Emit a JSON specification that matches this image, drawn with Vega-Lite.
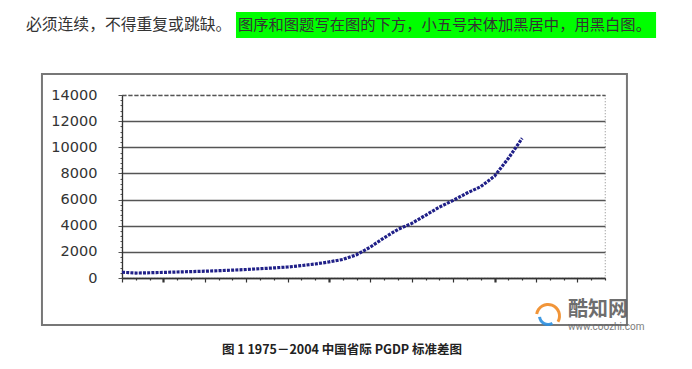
{
  "$schema": "https://vega.github.io/schema/vega-lite/v6.json",
  "width": 483,
  "height": 183,
  "autosize": "none",
  "padding": {"left": 122, "top": 95, "right": 87, "bottom": 91},
  "background": "white",
  "config": {"view": {"stroke": "#999", "strokeDash": [1, 2], "strokeWidth": 1.2}},
  "datasets": {
    "one": [{}],
    "pgdp": [
      {"year": 1975, "sd": 440}, {"year": 1976, "sd": 380}, {"year": 1977, "sd": 400},
      {"year": 1978, "sd": 430}, {"year": 1979, "sd": 460}, {"year": 1980, "sd": 490},
      {"year": 1981, "sd": 520}, {"year": 1982, "sd": 560}, {"year": 1983, "sd": 600},
      {"year": 1984, "sd": 650}, {"year": 1985, "sd": 710}, {"year": 1986, "sd": 770},
      {"year": 1987, "sd": 840}, {"year": 1988, "sd": 950}, {"year": 1989, "sd": 1070},
      {"year": 1990, "sd": 1230}, {"year": 1991, "sd": 1420}, {"year": 1992, "sd": 1780},
      {"year": 1993, "sd": 2370}, {"year": 1994, "sd": 3080}, {"year": 1995, "sd": 3720},
      {"year": 1996, "sd": 4180}, {"year": 1997, "sd": 4800}, {"year": 1998, "sd": 5420},
      {"year": 1999, "sd": 5940}, {"year": 2000, "sd": 6500}, {"year": 2001, "sd": 6990},
      {"year": 2002, "sd": 7800}, {"year": 2003, "sd": 9160}, {"year": 2004, "sd": 10690}
    ]
  },
  "layer": [
    {
      "data": {"name": "pgdp"},
      "mark": {"type": "line", "color": "#202088", "strokeWidth": 3.2, "strokeDash": [3, 1.2]},
      "encoding": {
        "x": {
          "field": "year", "type": "quantitative",
          "scale": {"domain": [1975, 2010], "nice": false, "zero": false},
          "axis": {
            "orient": "bottom",
            "title": null, "labels": false, "grid": false,
            "values": [1975,1976,1977,1978,1979,1980,1981,1982,1983,1984,1985,1986,1987,1988,1989,1990,1991,1992,1993,1994,1995,1996,1997,1998,1999,2000,2001,2002,2003,2004,2005,2006,2007,2008,2009,2010],
            "domainColor": "#333", "domainWidth": 1.3,
            "tickColor": "#333",
            "tickSize": {"condition": {"test": "(datum.value - 1975) % 3 == 0", "value": 4}, "value": 2},
            "tickWidth": {"condition": {"test": "(datum.value - 1978) % 12 == 0", "value": 2.2}, "value": 1.2}
          }
        },
        "y": {
          "field": "sd", "type": "quantitative",
          "scale": {"domain": [0, 14000], "nice": false},
          "axis": {
            "orient": "left",
            "title": null,
            "values": [0,400,800,1200,1600,2000,2400,2800,3200,3600,4000,4400,4800,5200,5600,6000,6400,6800,7200,7600,8000,8400,8800,9200,9600,10000,10400,10800,11200,11600,12000,12400,12800,13200,13600,14000],
            "labelExpr": "datum.value % 2000 == 0 ? datum.value : ''",
            "labelOverlap": false,
            "labelFont": "DejaVu Sans", "labelFontSize": 14.5, "labelColor": "#333",
            "labelPadding": 21,
            "domainColor": "#333", "domainWidth": 1.3,
            "tickColor": "#555",
            "tickSize": {"condition": {"test": "datum.value % 2000 == 0", "value": 4}, "value": 2},
            "grid": true,
            "gridColor": "#555",
            "gridWidth": 1.4,
            "gridOpacity": {"condition": {"test": "datum.value % 2000 == 0", "value": 1}, "value": 0},
            "gridDash": {"condition": {"test": "datum.value == 14000", "value": [4, 2]}, "value": []}
          }
        }
      }
    },
    {
      "data": {"name": "one"},
      "mark": {"type": "rect", "fill": null, "stroke": "#777", "strokeWidth": 2},
      "encoding": {
        "x": {"datum": 1969.2, "type": "quantitative", "axis": null},
        "x2": {"datum": 2011.59},
        "y": {"datum": 15607, "type": "quantitative", "axis": null},
        "y2": {"datum": -3596}
      }
    },
    {
      "data": {"name": "one"},
      "mark": {"type": "rect", "fill": "#00ff00"},
      "encoding": {
        "x": {"datum": 1983.26, "type": "quantitative", "axis": null},
        "x2": {"datum": 2013.7},
        "y": {"datum": 20350, "type": "quantitative", "axis": null},
        "y2": {"datum": 18361}
      }
    },
    {
      "data": {"name": "one"},
      "mark": {"type": "text", "align": "left", "baseline": "middle", "font": "Noto Sans CJK SC", "fontSize": 15.8, "color": "#333", "text": "必须连续，不得重复或跳缺。"},
      "encoding": {
        "x": {"datum": 1968.04, "type": "quantitative", "axis": null},
        "y": {"datum": 19356, "type": "quantitative", "axis": null}
      }
    },
    {
      "data": {"name": "one"},
      "mark": {"type": "text", "align": "left", "baseline": "middle", "font": "Noto Sans CJK SC", "fontSize": 15.3, "color": "#333", "text": "图序和图题写在图的下方，小五号宋体加黑居中，用黑白图。"},
      "encoding": {
        "x": {"datum": 1983.4, "type": "quantitative", "axis": null},
        "y": {"datum": 19356, "type": "quantitative", "axis": null}
      }
    },
    {
      "data": {"name": "one"},
      "mark": {"type": "text", "align": "center", "baseline": "middle", "font": "Noto Sans CJK SC", "fontWeight": "bold", "fontSize": 12.5, "color": "#222", "text": "图 1  1975－2004 中国省际 PGDP 标准差图"},
      "encoding": {
        "x": {"datum": 1990.94, "type": "quantitative", "axis": null},
        "y": {"datum": -5508, "type": "quantitative", "axis": null}
      }
    },
    {
      "data": {"name": "one"},
      "mark": {"type": "arc", "fill": "#f08a24", "opacity": 0.9, "theta": -1.4, "theta2": 2.1, "radius": 13, "radius2": 10},
      "encoding": {
        "x": {"datum": 2005.87, "type": "quantitative", "axis": null},
        "y": {"datum": -2907, "type": "quantitative", "axis": null}
      }
    },
    {
      "data": {"name": "one"},
      "mark": {"type": "arc", "fill": "#2b8fe0", "opacity": 0.9, "theta": 2.6, "theta2": 4.6, "radius": 10, "radius2": 7},
      "encoding": {
        "x": {"datum": 2005.87, "type": "quantitative", "axis": null},
        "y": {"datum": -2907, "type": "quantitative", "axis": null}
      }
    },
    {
      "data": {"name": "one"},
      "mark": {"type": "text", "align": "left", "baseline": "middle", "font": "Noto Sans CJK SC", "fontWeight": "bold", "fontSize": 20, "color": "#555", "opacity": 0.85, "text": "酷知网"},
      "encoding": {
        "x": {"datum": 2007.32, "type": "quantitative", "axis": null},
        "y": {"datum": -2448, "type": "quantitative", "axis": null}
      }
    },
    {
      "data": {"name": "one"},
      "mark": {"type": "text", "align": "left", "baseline": "middle", "font": "Roboto", "fontSize": 10, "color": "#666", "opacity": 0.85, "text": "www.coozhi.com"},
      "encoding": {
        "x": {"datum": 2007.32, "type": "quantitative", "axis": null},
        "y": {"datum": -3749, "type": "quantitative", "axis": null}
      }
    }
  ],
  "resolve": {"axis": {"x": "independent", "y": "independent"}}
}
